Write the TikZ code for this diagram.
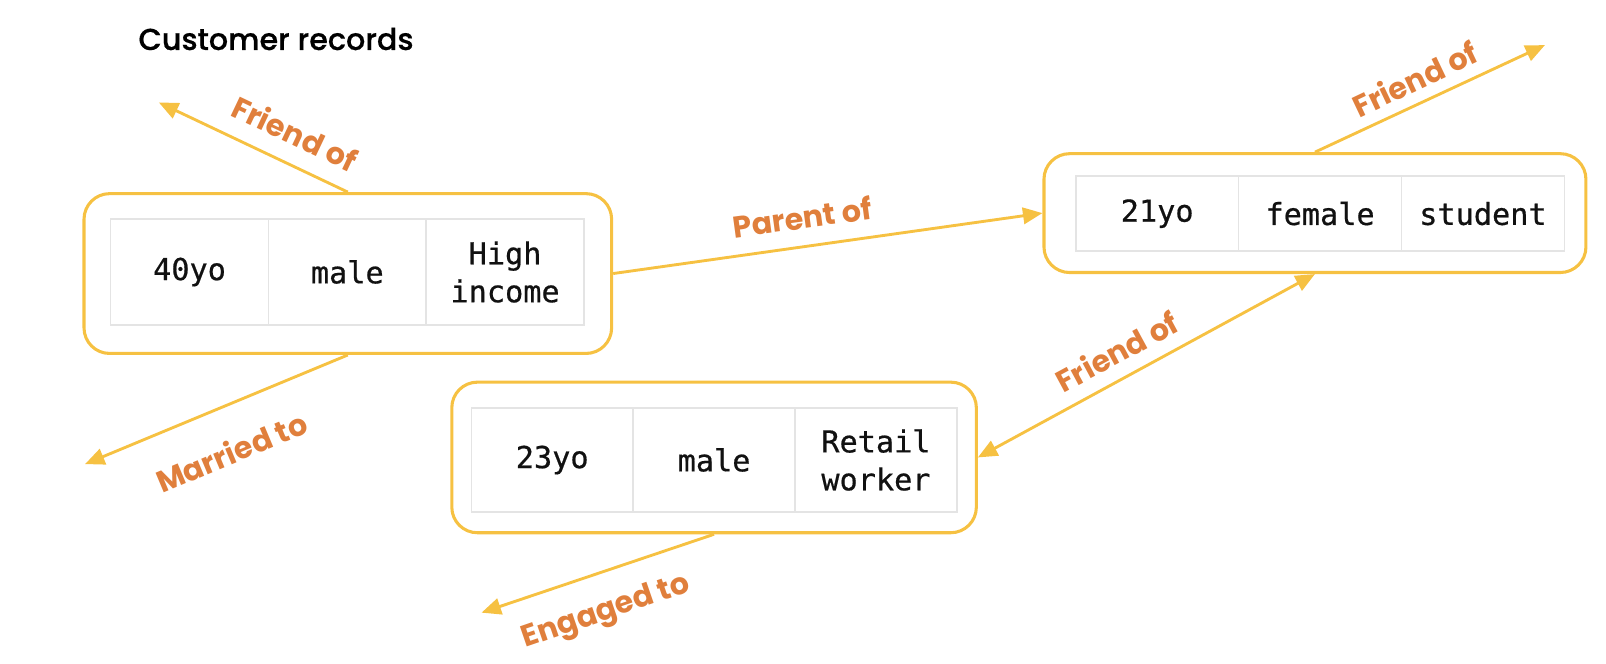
\documentclass[tikz,border=0pt]{standalone}
\usepackage{fontspec}
\setmainfont{Poppins}
\newfontfamily\titlefont{Poppins Medium}[FakeBold=0.5]
\newfontfamily\monofont{DejaVu Sans Mono}[FakeBold=0.6]
\usetikzlibrary{arrows.meta}
\definecolor{edgeyellow}{HTML}{F6C142}
\definecolor{labelorange}{HTML}{E07F3C}
\definecolor{cellgray}{HTML}{E4E4E4}
\definecolor{inktext}{HTML}{111111}
\begin{document}
\begin{tikzpicture}[x=1pt,y=-1pt,
  recbox/.style={draw=edgeyellow, line width=3pt, rounded corners=25pt, inner sep=0pt},
  cell/.style={draw=cellgray, line width=1.5pt, inner sep=0pt, align=center,
    text=inktext, font=\monofont\fontsize{29.5}{37}\selectfont},
  rel/.style={draw=edgeyellow, line width=2.8pt, -{Triangle[length=19pt,width=16pt]}},
  relboth/.style={draw=edgeyellow, line width=2.8pt, {Triangle[length=19pt,width=16pt]}-{Triangle[length=19pt,width=16pt]}},
  rellabel/.style={text=labelorange, font=\bfseries\fontsize{29.5}{32}\selectfont, inner sep=0pt}
]
\useasboundingbox (0,0) rectangle (1567.6,648.1);

\node[anchor=west, text=black, font=\titlefont\fontsize{29.5}{32}\selectfont, inner sep=0pt] (title) at (135,38) {Customer records};

% boxes
\node[recbox, minimum width=515pt, minimum height=156pt] (A) at (339.5,267) {};
\node[recbox, minimum width=529pt, minimum height=116pt] (B) at (1283.5,208) {};
\node[recbox, minimum width=512pt, minimum height=147pt] (C) at (697,446.5) {};

% cells A
\node[cell, minimum width=154pt, minimum height=103pt] (a1) at (185,265.5) {40yo};
\node[cell, minimum width=154pt, minimum height=103pt] (a2) at (339,265.5) {male};
\node[cell, minimum width=154pt, minimum height=103pt] (a3) at (493,265.5) {High\\income};
% cells B
\node[cell, minimum width=159pt, minimum height=73pt] (b1) at (1129.5,208.5) {21yo};
\node[cell, minimum width=159pt, minimum height=73pt] (b2) at (1288.5,208.5) {female};
\node[cell, minimum width=159pt, minimum height=73pt] (b3) at (1447.5,208.5) {student};
% cells C
\node[cell, minimum width=158pt, minimum height=102pt] (c1) at (539,449) {23yo};
\node[cell, minimum width=158pt, minimum height=102pt] (c2) at (697,449) {male};
\node[cell, minimum width=158pt, minimum height=102pt] (c3) at (855,449) {Retail\\worker};

% free ends
\coordinate (fA) at (155,100);
\coordinate (mA) at (83,453);
\coordinate (fB) at (1508,44);
\coordinate (eC) at (470,598);

% connectors
\draw[rel] (A.north) -- (fA);
\draw[rel] (A.south) -- (mA);
\draw[rel] (A.east) -- (B.west);
\draw[rel] (B.north) -- (fB);
\draw[relboth] (C.east) -- (B.south);
\draw[rel] (C.south) -- (eC);

% labels
\node[rellabel, rotate=-25.4] (l1) at (288,130) {Friend of};
\node[rellabel, rotate=22.8] (l2) at (226,441) {Married to};
\node[rellabel, rotate=7.7] (l3) at (783,212) {Parent of};
\node[rellabel, rotate=25.4] (l4) at (1381,77) {Friend of};
\node[rellabel, rotate=28.4] (l5) at (1090,343) {Friend of};
\node[rellabel, rotate=19] (l6) at (592,598) {Engaged to};
\end{tikzpicture}
\end{document}
